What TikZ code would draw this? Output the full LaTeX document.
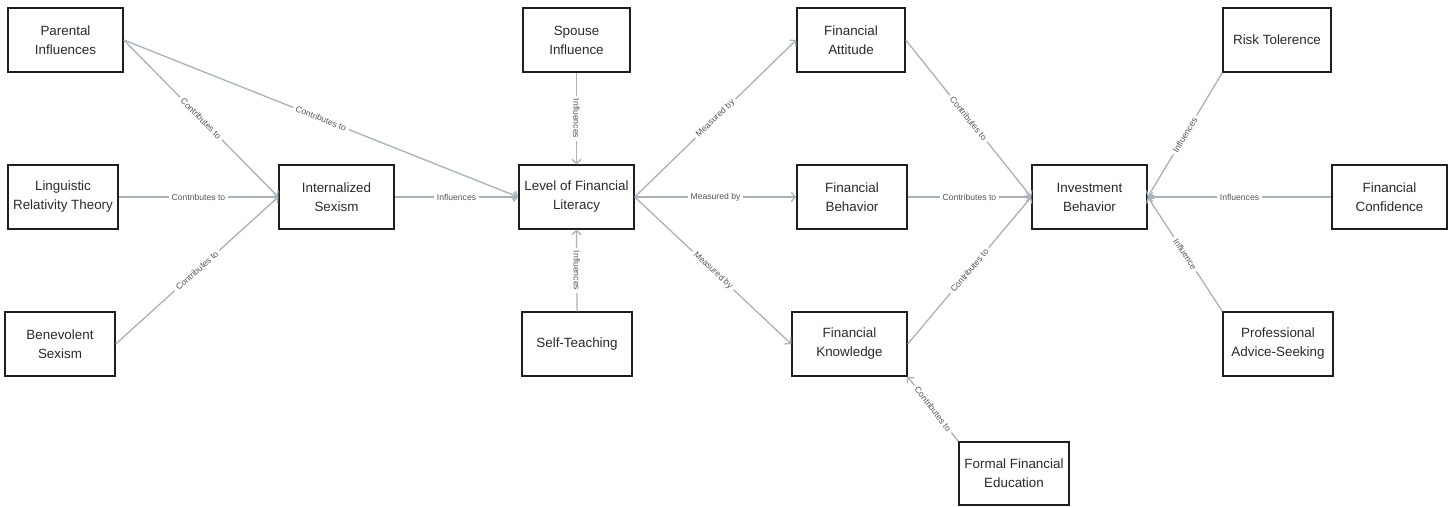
\documentclass[tikz,border=0pt]{standalone}
\usepackage{fontspec}
\setmainfont{Liberation Sans}
\usetikzlibrary{arrows.meta}
\definecolor{edgec}{HTML}{A9B2BA}
\definecolor{labc}{HTML}{555555}
\definecolor{boxtxt}{HTML}{2A2A2A}
\tikzset{
  box/.style={draw=black!88, line width=1.5pt, rectangle, inner sep=0pt, align=center,
    text=boxtxt, font=\fontsize{13.4}{19}\selectfont},
  conn/.style={draw=edgec, line width=1.3pt, -{Straight Barb[length=4pt,width=9pt,line width=1.3pt]}},
  lab/.style={midway, sloped, fill=white, inner xsep=3pt, inner ysep=1pt, text=labc,
    font=\fontsize{8.6}{9}\selectfont}
}
\begin{document}
\begin{tikzpicture}[x=1pt,y=-1pt]
\useasboundingbox (0,0) rectangle (1453,506);
% nodes
\node[box, minimum width=115, minimum height=64] (par) at (65.5,40) {Parental\\Influences};
\node[box, minimum width=110, minimum height=64] (lin) at (63,197) {Linguistic\\Relativity Theory};
\node[box, minimum width=110, minimum height=64] (ben) at (60,344) {Benevolent\\Sexism};
\node[box, minimum width=115, minimum height=64] (int) at (336.5,197) {Internalized\\Sexism};
\node[box, minimum width=107, minimum height=64] (spo) at (576.5,40) {Spouse\\Influence};
\node[box, minimum width=115, minimum height=64] (lev) at (576.5,197) {Level of Financial\\Literacy};
\node[box, minimum width=110, minimum height=64] (sel) at (577,344) {Self-Teaching};
\node[box, minimum width=108, minimum height=64] (att) at (851,40) {Financial\\Attitude};
\node[box, minimum width=110, minimum height=64] (beh) at (852,197) {Financial\\Behavior};
\node[box, minimum width=115, minimum height=64] (kno) at (849.5,344) {Financial\\Knowledge};
\node[box, minimum width=110, minimum height=63] (for) at (1014,473.5) {Formal Financial\\Education};
\node[box, minimum width=115, minimum height=64] (inv) at (1089.5,197) {Investment\\Behavior};
\node[box, minimum width=108, minimum height=64] (ris) at (1277,40) {Risk Tolerence};
\node[box, minimum width=115, minimum height=64] (con) at (1389.5,197) {Financial\\Confidence};
\node[box, minimum width=110, minimum height=64] (pro) at (1278,344) {Professional\\Advice-Seeking};
% connectors
\draw[conn] (par.east) -- node[lab] {Contributes to} (int.west);
\draw[conn] (par.east) -- node[lab] {Contributes to} (lev.west);
\draw[conn] (lin.east) -- node[lab] {Contributes to} (int.west);
\draw[conn] (ben.east) -- node[lab] {Contributes to} (int.west);
\draw[conn] (int.east) -- node[lab] {Influences} (lev.west);
\draw[conn] (spo.south) -- node[lab] {Influences} (lev.north);
\draw[conn] (sel.north) -- node[lab] {Influences} (lev.south);
\draw[conn] (lev.east) -- node[lab] {Measured by} (att.west);
\draw[conn] (lev.east) -- node[lab] {Measured by} (beh.west);
\draw[conn] (lev.east) -- node[lab] {Measured by} (kno.west);
\draw[conn] (att.east) -- node[lab] {Contributes to} (inv.west);
\draw[conn] (beh.east) -- node[lab] {Contributes to} (inv.west);
\draw[conn] (kno.east) -- node[lab] {Contributes to} (inv.west);
\draw[conn] (for.north west) -- node[lab] {Contributes to} (kno.south east);
\draw[conn] (ris.south west) -- node[lab] {Influences} (inv.east);
\draw[conn] (con.west) -- node[lab] {Influences} (inv.east);
\draw[conn] (pro.north west) -- node[lab] {Influence} (inv.east);
\end{tikzpicture}
\end{document}
